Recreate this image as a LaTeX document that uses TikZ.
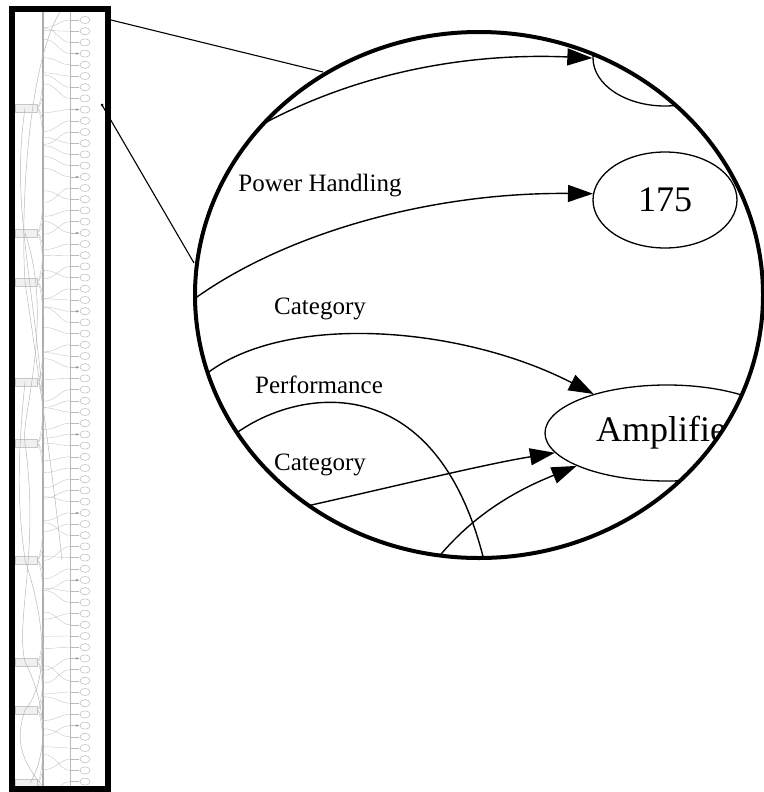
\documentclass[tikz,border=0pt]{standalone}
\usepackage{fontspec}
\setmainfont{Liberation Serif}
\usetikzlibrary{arrows.meta,shapes.geometric}
\tikzset{val/.style={draw,ellipse,line width=1.3pt,inner sep=0pt,minimum width=144pt,minimum height=96pt,font=\fontsize{36}{40}\selectfont},
 lbl/.style={font=\fontsize{25}{28}\selectfont,inner sep=0pt},
 rel/.style={line width=1.4pt,-{Triangle[length=25pt,width=17pt]}},
 wire/.style={line width=1.4pt},
 lens/.style={line width=4pt},
 guide/.style={line width=1.1pt},
 thumb/.style={gray!55,line width=.5pt}}
\begin{document}
\begin{tikzpicture}[x=1pt,y=-1pt]
\useasboundingbox (0,0) rectangle (763,792);
% overview of the whole graph
\pgfmathsetseed{5}
\begin{scope}
\clip (12,9) rectangle (108,789);
\draw[gray!65,line width=1.4pt] (43,9) -- (43,789);
\draw[thumb] (70,9) -- (70,789);
\foreach \i in {0,...,68}{
  \pgfmathsetmacro{\ly}{20+11.2*\i}
  \pgfmathsetmacro{\my}{\ly+rand*16}
  \draw[gray!45,line width=.4pt] (44,\my) .. controls (56,\my) and (60,\ly) .. (70,\ly);
  \draw[thumb] (70,\ly) -- (79,\ly);
  \draw[thumb] (85,\ly) ellipse (5 and 3.6);
}
\foreach \i in {3,8,14,19,26,31,37,44,50,57,63}{
  \fill[gray!80] (77,20+11.2*\i) circle (1.3);
}
\foreach \h in {108,233,282,382,443,560,662,710,783}{
  \draw[gray!45,fill=gray!12] (15,\h-4) rectangle (37,\h+4);
  \foreach \d in {-36,-18,18,36}{\draw[gray!45,line width=.4pt] (37,\h) .. controls (40,\h) and (42,\h+\d*.5) .. (44,\h+\d);}
}
\draw[thumb] (60,12) .. controls (30,60) and (20,200) .. (25,282);
\draw[thumb] (25,108) .. controls (12,200) and (30,260) .. (43,400);
\draw[thumb] (25,233) .. controls (55,320) and (20,420) .. (25,443);
\draw[thumb] (25,282) .. controls (35,350) and (50,450) .. (62,560);
\draw[thumb] (25,382) .. controls (15,480) and (20,520) .. (25,560);
\draw[thumb] (25,443) .. controls (40,550) and (15,620) .. (25,662);
\draw[thumb] (25,560) .. controls (45,620) and (50,680) .. (25,710);
\draw[thumb] (25,662) .. controls (45,700) and (50,750) .. (30,783);
\draw[thumb] (25,710) .. controls (15,740) and (20,760) .. (45,789);
\end{scope}
\draw[line width=6pt] (12,9) rectangle (108,789);
% zoom guides
\coordinate (pA) at (111,20);
\coordinate (pB) at (102,105);
\coordinate (lA) at (323,72);
\coordinate (lB) at (194,263);
\fill (pB) circle (1.5);
\draw[guide] (pA) -- (lA);
\draw[guide] (pB) -- (lB);
% magnified part
\begin{scope}
\clip (479,295) ellipse (284 and 263);
\node[val] (topv) at (665,58) {};
\node[val] (n175) at (665,200) {175};
\node[val,minimum width=244pt] (amp) at (667,433) {Amplifier};
\coordinate (s1) at (252,130);
\coordinate (s2) at (170,318);
\coordinate (s3) at (185,395);
\coordinate (s4) at (215,452);
\coordinate (e4) at (492,600);
\coordinate (s5) at (280,512);
\coordinate (s6) at (425,575);
\draw[rel] (s1) .. controls (340,80) and (450,52) .. (topv.west);
\draw[rel] (s2) .. controls (260,240) and (420,192) .. (n175.175);
\draw[rel] (s3) .. controls (250,310) and (450,320) .. (amp.152);
\draw[wire] (s4) .. controls (270,390) and (450,340) .. (e4);
\draw[rel] (s5) .. controls (380,490) and (480,465) .. (amp.190);
\draw[rel] (s6) .. controls (470,510) and (530,485) .. (amp.200);
\node[lbl] (lpow) at (320,186) {Power Handling};
\node[lbl] (lcat) at (320,309) {Category};
\node[lbl] (lperf) at (319,385) {Performance};
\node[lbl] (lcat2) at (320,465) {Category};
\end{scope}
\draw[lens] (479,295) ellipse (284 and 263);
\end{tikzpicture}
\end{document}
